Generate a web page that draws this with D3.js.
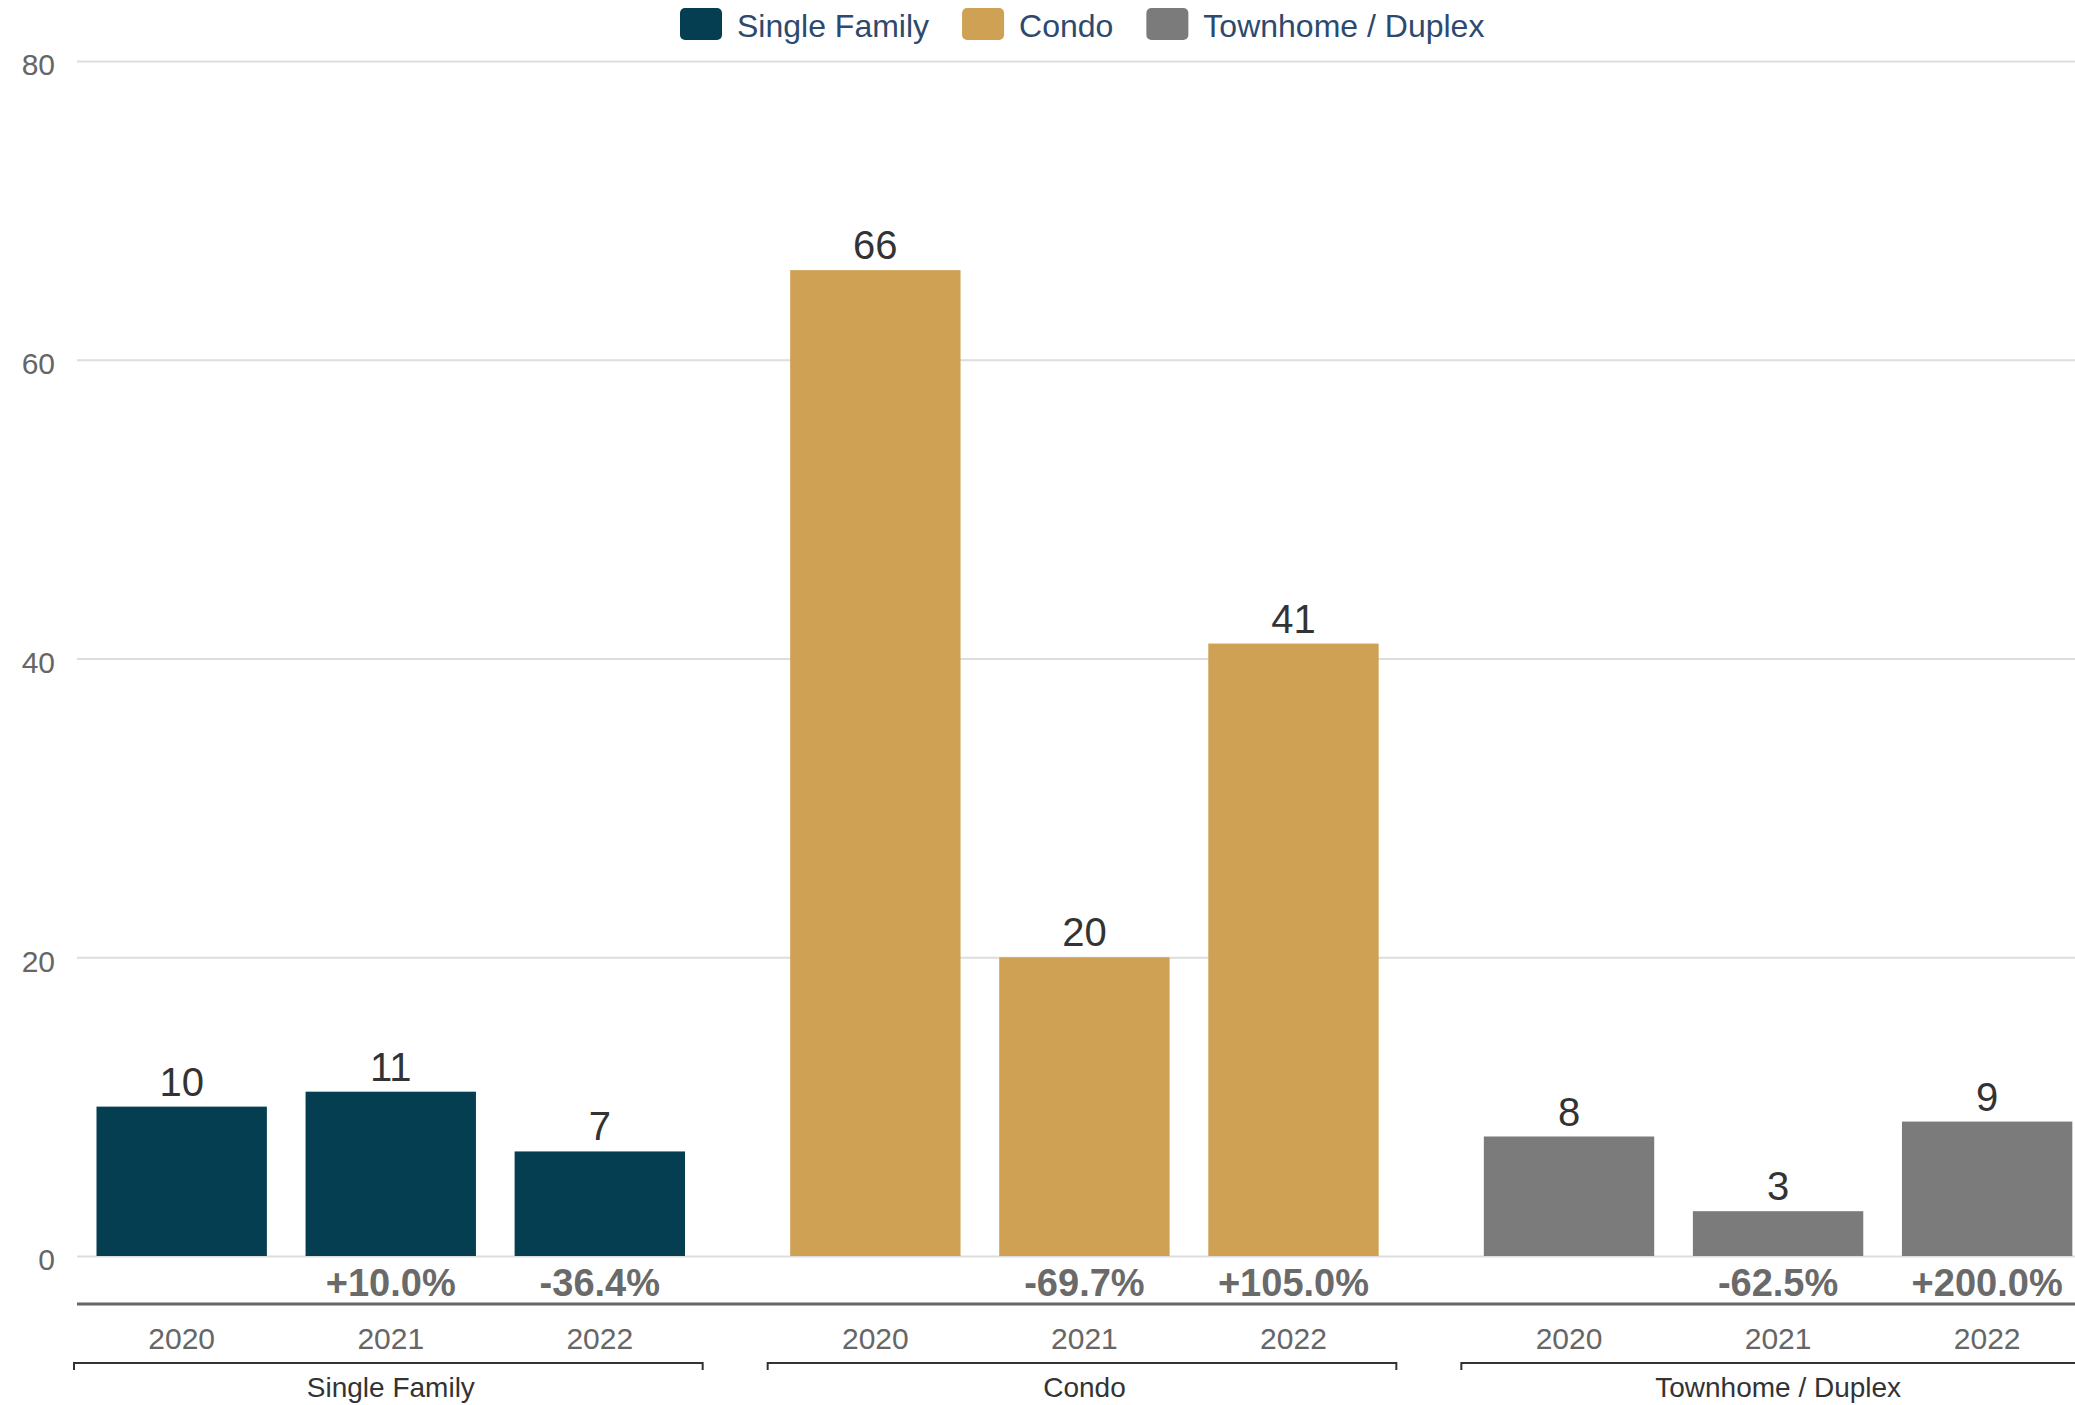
<!DOCTYPE html>
<html>
<head>
<meta charset="utf-8">
<script src="https://cdn.jsdelivr.net/npm/d3@7"></script>
<style>
  body { margin: 0; background: #fff; }
  svg { display: block; font-family: "Liberation Sans", Arial, sans-serif; }
</style>
</head>
<body>
<div id="app"></div>
<script>
// data
const categories = ["Single Family", "Condo", "Townhome / Duplex"];
const years = ["2020", "2021", "2022"];
const singleFamily = [10, 11, 7];
const condo = [66, 20, 41];
const townhome = [8, 3, 9];
const singleFamilyChange = ["", "+10.0%", "-36.4%"];
const condoChange = ["", "-69.7%", "+105.0%"];
const townhomeChange = ["", "-62.5%", "+200.0%"];
const yTicks = [0, 20, 40, 60, 80];
const colors = ["#053d51", "#cfa155", "#7b7b7b"];

const seriesValues = [singleFamily, condo, townhome];
const seriesChange = [singleFamilyChange, condoChange, townhomeChange];

// sizing
const width = 2075;
const height = 1405;
const plotLeft = 77;

const svg = d3.select("#app")
  .append("svg")
    .attr("width", width)
    .attr("height", height);

// scales
const x0 = d3.scaleBand()
  .domain(categories)
  .range([44, 2125])
  .padding(0);

const x1 = d3.scaleBand()
  .domain(years)
  .range([52.5, 641])
  .paddingInner(0.185)
  .paddingOuter(0);

const y = d3.scaleLinear()
  .domain([0, 80])
  .range([1256, 61]);

// y axis + gridlines
const yAxis = svg.append("g")
  .attr("transform", `translate(${plotLeft},0)`)
  .call(d3.axisLeft(y)
    .tickValues(yTicks)
    .tickSize(-(width - plotLeft))
    .tickPadding(22));
yAxis.select(".domain").remove();
yAxis.selectAll("line")
  .attr("stroke", "#dddddd")
  .attr("stroke-width", 2);
yAxis.selectAll("text")
  .attr("fill", "#666666")
  .style("font-size", "30px")
  .style("font-family", "Liberation Sans, Arial, sans-serif")
  .attr("dy", "0.46em");

// flatten rows
const rows = [];
categories.forEach((c, i) => {
  years.forEach((yr, j) => {
    rows.push({cat: c, year: yr, value: seriesValues[i][j], change: seriesChange[i][j], color: colors[i]});
  });
});

const bx = d => x0(d.cat) + x1(d.year);

// bars
svg.append("g")
  .selectAll("rect")
  .data(rows)
  .enter().append("rect")
    .attr("x", bx)
    .attr("y", d => y(d.value))
    .attr("width", x1.bandwidth())
    .attr("height", d => y(0) - y(d.value))
    .attr("fill", d => d.color);

// value labels
svg.append("g")
  .selectAll("text")
  .data(rows)
  .enter().append("text")
    .attr("x", d => bx(d) + x1.bandwidth() / 2)
    .attr("y", d => y(d.value) - 11)
    .attr("text-anchor", "middle")
    .attr("fill", "#333333")
    .style("font-size", "40px")
    .text(d => d.value);

// change labels
svg.append("g")
  .selectAll("text")
  .data(rows.filter(d => d.change !== ""))
  .enter().append("text")
    .attr("x", d => bx(d) + x1.bandwidth() / 2)
    .attr("y", 1296)
    .attr("text-anchor", "middle")
    .attr("fill", "#6a6a6a")
    .style("font-size", "38px")
    .style("font-weight", "bold")
    .text(d => d.change);

// bottom axis line
svg.append("line")
  .attr("x1", plotLeft)
  .attr("x2", width)
  .attr("y1", 1304)
  .attr("y2", 1304)
  .attr("stroke", "#666666")
  .attr("stroke-width", 3);

// year labels per group
categories.forEach(c => {
  const g = svg.append("g")
    .attr("transform", `translate(${x0(c)},1304)`)
    .call(d3.axisBottom(x1).tickSize(0).tickPadding(0));
  g.select(".domain").remove();
  g.selectAll("text")
    .attr("y", 45)
    .attr("dy", 0)
    .attr("fill", "#666666")
    .style("font-size", "30px")
    .style("font-family", "Liberation Sans, Arial, sans-serif");
});

// group brackets
const bracket = svg.append("g");
bracket.selectAll("path")
  .data(categories)
  .enter().append("path")
    .attr("d", c => {
      const l = x0(c) + 30;
      const r = x0(c) + x0.bandwidth() - 35;
      return `M${l},1370V1363H${r}V1370`;
    })
    .attr("fill", "none")
    .attr("stroke", "#333333")
    .attr("stroke-width", 2);

bracket.selectAll("text")
  .data(categories)
  .enter().append("text")
    .attr("x", c => x0(c) + x0.bandwidth() / 2)
    .attr("y", 1397)
    .attr("text-anchor", "middle")
    .attr("fill", "#333333")
    .style("font-size", "28px")
    .text(c => c);

// legend
const legend = svg.append("g").attr("transform", "translate(680,1)");
let lx = 0;
categories.forEach((c, i) => {
  const item = legend.append("g").attr("transform", `translate(${lx},0)`);
  item.append("rect")
    .attr("x", 0)
    .attr("y", 7)
    .attr("width", 42)
    .attr("height", 32)
    .attr("rx", 5)
    .attr("fill", colors[i]);
  const t = item.append("text")
    .attr("x", 57)
    .attr("y", 36)
    .attr("fill", "#2d4a6e")
    .style("font-size", "32px")
    .text(c);
  lx += 57 + t.node().getComputedTextLength() + 33;
});
</script>
</body>
</html>
